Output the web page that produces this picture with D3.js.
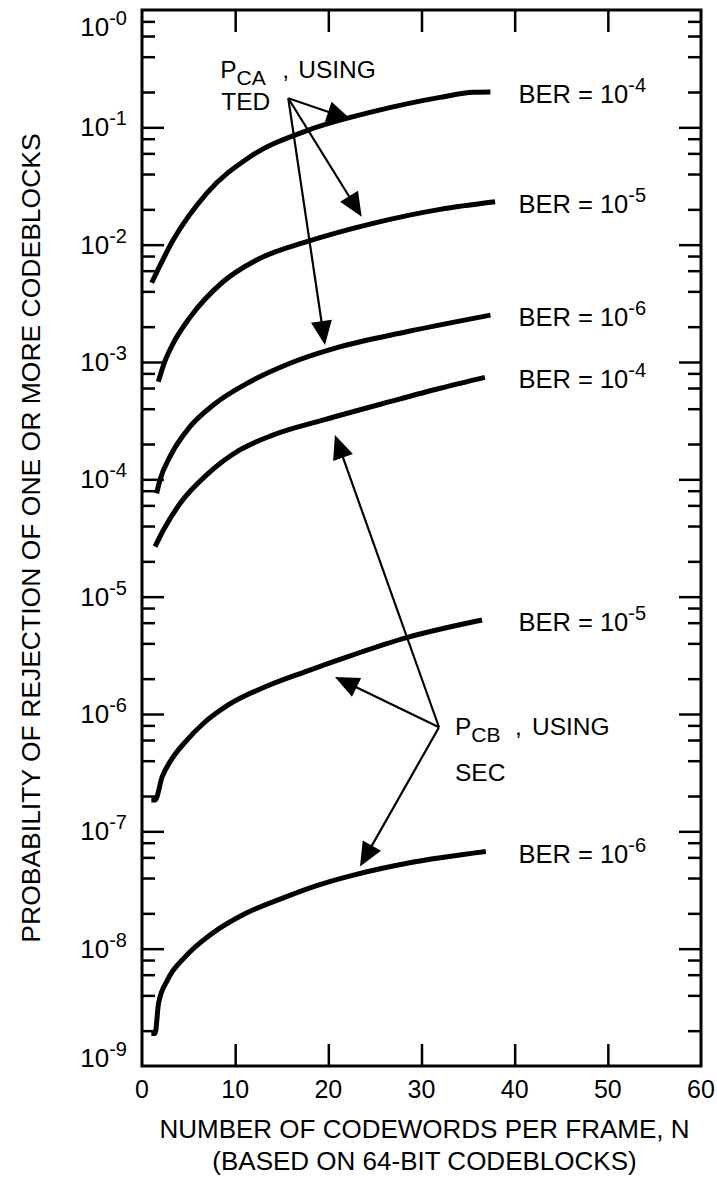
<!DOCTYPE html>
<html><head><meta charset="utf-8">
<script src="https://cdn.jsdelivr.net/npm/d3@7"></script>
<style>
html,body{margin:0;padding:0;background:#fff;}
text{font-family:"Liberation Sans",Arial,Helvetica,sans-serif;fill:#000;}
</style></head><body>
<svg id="chart" width="717" height="1177"></svg>
<script>
// ---------- data ----------
const xTickValues = [0, 10, 20, 30, 40, 50, 60];
const xTickLabels = ["0", "10", "20", "30", "40", "50", "60"];
const yDecadeExps = [0, -1, -2, -3, -4, -5, -6, -7, -8, -9];
const yTickSupers = ["-0", "-1", "-2", "-3", "-4", "-5", "-6", "-7", "-8", "-9"];
const minorMultipliers = [2, 4, 6, 8];

// P_CA using TED
const nTED4 = [1.04, 3.36, 6.94, 11.6, 17.7, 24.8, 32.0, 35.6, 37.4];
const pTED4 = [4.74e-3, 1.10e-2, 2.74e-2, 5.62e-2, 9.38e-2, 0.136, 0.180, 0.199, 0.200];
const nTED5 = [1.75, 2.47, 3.36, 5.15, 8.7, 12.3, 17.7, 24.8, 32.0, 37.9];
const pTED5 = [6.79e-4, 1.02e-3, 1.45e-3, 2.40e-3, 4.83e-3, 7.40e-3, 1.06e-2, 1.52e-2, 2.00e-2, 2.32e-2];
const nTED6 = [1.57, 1.93, 3.0, 5.15, 7.65, 11.6, 15.9, 21.3, 28.4, 37.4];
const pTED6 = [7.60e-5, 9.86e-5, 1.56e-4, 2.81e-4, 4.30e-4, 6.79e-4, 9.75e-4, 1.35e-3, 1.81e-3, 2.51e-3];
// P_CB using SEC
const nSEC4 = [1.4, 2.3, 4.1, 6.94, 10.5, 14.1, 19.5, 26.6, 32.0, 36.8];
const pSEC4 = [2.67e-5, 3.70e-5, 6.25e-5, 1.09e-4, 1.78e-4, 2.39e-4, 3.21e-4, 4.59e-4, 5.97e-4, 7.40e-4];
const nSEC5 = [1.0, 1.4, 2.17, 3.13, 4.68, 6.61, 9.3, 13.5, 17.5, 22.5, 28.4, 36.5];
const pSEC5 = [1.85e-7, 1.85e-7, 2.92e-7, 4.06e-7, 5.82e-7, 8.34e-7, 1.20e-6, 1.74e-6, 2.29e-6, 3.16e-6, 4.47e-6, 6.32e-6];
const nSEC6 = [1.0, 1.4, 1.78, 2.75, 4.68, 7.38, 11.2, 15.1, 19.0, 22.8, 28.6, 36.9];
const pSEC6 = [1.89e-9, 1.89e-9, 3.44e-9, 5.43e-9, 8.59e-9, 1.32e-8, 2.01e-8, 2.70e-8, 3.50e-8, 4.26e-8, 5.37e-8, 6.73e-8];

const berSupers = ["-4", "-5", "-6", "-4", "-5", "-6"];

// annotation anchors (data units: [N, probability])
const tedOrigin = [15.7, 0.1768];
const tedTips = [[22.43, 0.1167], [23.58, 0.0173], [19.64, 1.396e-3]];
const secOrigin = [31.88, 7.71e-7];
const secTips = [[20.71, 2.39e-4], [20.71, 2.07e-6], [23.40, 5.01e-8]];

const xTitle1 = "NUMBER OF CODEWORDS PER FRAME, N";
const xTitle2 = "(BASED ON 64-BIT CODEBLOCKS)";
const yTitle = "PROBABILITY OF REJECTION OF ONE OR MORE CODEBLOCKS";

// ---------- layout ----------
const L = 142, R = 701, T = 10, B = 1066;
const svg = d3.select("#chart");
const x = d3.scaleLinear().domain([0, 60]).range([L, R]);
const y = d3.scaleLog().domain([1, 1e-9]).range([T, B]);

const majorVals = yDecadeExps.map(e => Math.pow(10, e));
const minorVals = [];
yDecadeExps.slice(1).forEach(e => minorMultipliers.forEach(m => minorVals.push(m * Math.pow(10, e))));

function styleAxis(g, w) {
  g.select(".domain").remove();
  g.selectAll(".tick line").attr("stroke", "#000").attr("stroke-width", w);
}

// x ticks bottom & top (inward)
svg.append("g").attr("transform", `translate(0,${B})`)
  .call(d3.axisBottom(x).tickValues(xTickValues.slice(1, -1)).tickSize(-22).tickFormat(""))
  .call(g => styleAxis(g, 2.5));
svg.append("g").attr("transform", `translate(0,${T})`)
  .call(d3.axisTop(x).tickValues(xTickValues.slice(1, -1)).tickSize(-22).tickFormat(""))
  .call(g => styleAxis(g, 2.5));

// y ticks left & right
[[d3.axisLeft, L], [d3.axisRight, R]].forEach(([ax, pos]) => {
  svg.append("g").attr("transform", `translate(${pos},0)`)
    .call(ax(y).tickValues(majorVals.slice(1, -1)).tickSize(-22).tickFormat(""))
    .call(g => styleAxis(g, 2.5));
  svg.append("g").attr("transform", `translate(${pos},0)`)
    .call(ax(y).tickValues(minorVals).tickSize(-13).tickFormat(""))
    .call(g => styleAxis(g, 2.5));
});

// frame
svg.append("rect").attr("x", L).attr("y", T).attr("width", R - L).attr("height", B - T)
  .attr("fill", "none").attr("stroke", "#000").attr("stroke-width", 3);

// x tick labels
svg.append("g").selectAll("text").data(xTickValues).join("text")
  .attr("x", d => x(d)).attr("y", B + 32)
  .attr("text-anchor", "middle").attr("font-size", 25)
  .text((d, i) => xTickLabels[i]);

// y tick labels
const yl = svg.append("g").selectAll("text").data(majorVals).join("text")
  .attr("x", 127)
  .attr("y", d => Math.min(Math.max(y(d) + 9, 36), 1067))
  .attr("text-anchor", "end").attr("font-size", 26);
yl.append("tspan").text("10");
yl.append("tspan").attr("font-size", 20).attr("dy", -11).text((d, i) => yTickSupers[i]);

// curves
const series = [
  [nTED4, pTED4], [nTED5, pTED5], [nTED6, pTED6],
  [nSEC4, pSEC4], [nSEC5, pSEC5], [nSEC6, pSEC6]
];
const line = d3.line().x(d => x(d[0])).y(d => y(d[1])).curve(d3.curveMonotoneX);
series.forEach(([ns, ps], i) => {
  const pts = ns.map((n, j) => [n, ps[j]]);
  svg.append("path").datum(pts).attr("d", line)
    .attr("fill", "none").attr("stroke", "#000").attr("stroke-width", 5)
    .attr("stroke-linejoin", "round");
  const last = pts[pts.length - 1];
  const t = svg.append("text").attr("x", x(40.4)).attr("y", y(last[1]) + 11).attr("font-size", 25.5);
  t.append("tspan").text("BER = 10");
  t.append("tspan").attr("font-size", 20).attr("dy", -11).text(berSupers[i]);
});

// arrows
function arrow(o, tip) {
  const ox = x(o[0]), oy = y(o[1]), tx = x(tip[0]), ty = y(tip[1]);
  const dx = tx - ox, dy = ty - oy, len = Math.hypot(dx, dy);
  const ux = dx / len, uy = dy / len;
  const hl = 24, hw = 10.5;
  const bx = tx - ux * hl, by = ty - uy * hl;
  svg.append("line").attr("x1", ox).attr("y1", oy).attr("x2", bx + ux * 2).attr("y2", by + uy * 2)
    .attr("stroke", "#000").attr("stroke-width", 2.2);
  svg.append("path").attr("d", `M${tx},${ty}L${bx - uy * hw},${by + ux * hw}L${bx + uy * hw},${by - ux * hw}Z`)
    .attr("fill", "#000");
}
tedTips.forEach(t => arrow(tedOrigin, t));
secTips.forEach(t => arrow(secOrigin, t));

// annotation texts
function annot(o, pDx, pDy, sub, commaDx, usingDx, line2, l2Dx, l2Dy) {
  const ox = x(o[0]), oy = y(o[1]);
  const t = svg.append("text").attr("x", ox + pDx).attr("y", oy + pDy).attr("font-size", 24.5);
  t.append("tspan").text("P");
  t.append("tspan").attr("font-size", 21).attr("dy", 7).text(sub);
  svg.append("text").attr("x", ox + commaDx).attr("y", oy + pDy).attr("font-size", 24.5).text(",");
  svg.append("text").attr("x", ox + usingDx).attr("y", oy + pDy).attr("font-size", 24.5).text("USING");
  svg.append("text").attr("x", ox + l2Dx).attr("y", oy + l2Dy).attr("font-size", 24.5).text(line2);
}
annot(tedOrigin, -68, -20, "CA", -6, 10, "TED", -67, 12);
annot(secOrigin, 16, 8, "CB", 76, 93, "SEC", 16, 54);

// axis titles
const cx = (L + R) / 2;
svg.append("text").attr("x", cx + 3).attr("y", 1138).attr("text-anchor", "middle").attr("font-size", 26).text(xTitle1);
svg.append("text").attr("x", cx + 3).attr("y", 1170).attr("text-anchor", "middle").attr("font-size", 26).text(xTitle2);
svg.append("text").attr("transform", `translate(40,${(T + B) / 2}) rotate(-90)`)
  .attr("text-anchor", "middle").attr("font-size", 26.5).text(yTitle);
</script>
</body></html>
